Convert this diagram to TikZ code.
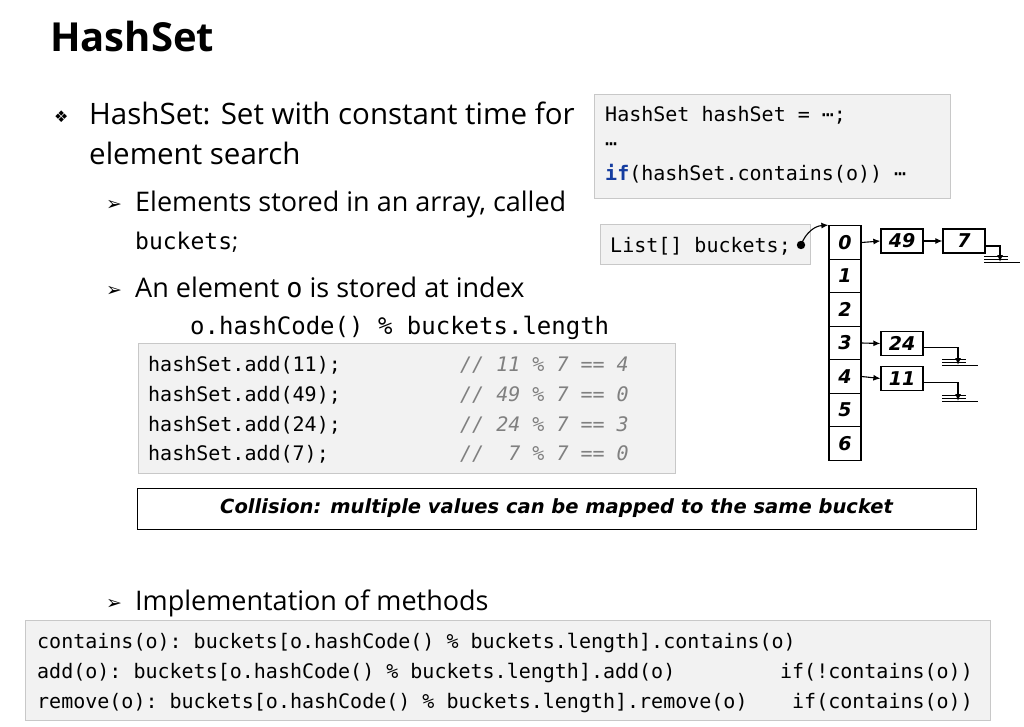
\documentclass[tikz,border=0pt]{standalone}
\usepackage{fontspec}
\setmainfont{Open Sans}
\setmonofont{DejaVu Sans Mono}
\newfontfamily\sym{DejaVu Sans}
\newfontfamily\comic{DejaVu Sans}
\usetikzlibrary{arrows.meta}
\definecolor{codebg}{RGB}{242,242,242}
\definecolor{codebd}{RGB}{200,200,200}
\definecolor{kw}{RGB}{20,60,160}
\begin{document}
\begin{tikzpicture}[x=1pt,y=-1pt,
  codebox/.style={fill=codebg,draw=codebd,line width=0.8pt},
  txt/.style={anchor=base west,inner sep=0pt,font=\fontsize{27}{30}\selectfont},
  code/.style={anchor=base west,inner sep=0pt,font=\ttfamily\fontsize{20}{24}\selectfont},
  cmt/.style={code,text=gray,font=\ttfamily\itshape\fontsize{20}{24}\selectfont},
  cell/.style={draw,line width=1.3pt,minimum width=32pt,minimum height=33.5pt,inner sep=0pt,font=\comic\bfseries\itshape\fontsize{19}{20}\selectfont},
  lnode/.style={draw,line width=1.3pt,minimum width=42pt,minimum height=24pt,inner sep=0pt,font=\comic\bfseries\itshape\fontsize{19}{20}\selectfont},
  link/.style={line width=1.1pt,-{Latex[length=7pt,width=6pt]}}]
\useasboundingbox (0,0) rectangle (1024,727);
\fill[white] (0,0) rectangle (1024,727);
% title
\node[anchor=base west,inner sep=0pt,font=\bfseries\fontsize{40}{44}\selectfont] (title) at (50,52) {HashSet};
% bullets
\node[anchor=base west,inner sep=0pt,font=\sym\fontsize{16}{18}\selectfont] (b1) at (54,123) {❖};
\node[anchor=base west,inner sep=0pt,font=\fontsize{29.5}{32}\selectfont] (t1) at (89,125) {HashSet: Set with constant time for};
\node[anchor=base west,inner sep=0pt,font=\fontsize{29.5}{32}\selectfont] (t1b) at (89,165) {element search};
\node[anchor=base west,inner sep=0pt,font=\sym\fontsize{19}{20}\selectfont] (b2) at (106,211) {➢};
\node[txt] (t2) at (135,212) {Elements stored in an array, called};
\node[anchor=base west,inner sep=0pt,font=\ttfamily\fontsize{23}{26}\selectfont] (t2b) at (135,249) {buckets\rmfamily;};
\node[anchor=base west,inner sep=0pt,font=\sym\fontsize{19}{20}\selectfont] (b3) at (106,296) {➢};
\node[txt] (t3) at (135,297) {An element \texttt{o} is stored at index};
\node[anchor=base west,inner sep=0pt,font=\ttfamily\fontsize{24}{26}\selectfont] (t3b) at (190,334) {o.hashCode() \% buckets.length};
% code box 1
\draw[codebox] (138,343) rectangle (675,473);
\node[code] (c1) at (148,371) {hashSet.add(11);};
\node[code] (c2) at (148,401) {hashSet.add(49);};
\node[code] (c3) at (148,431) {hashSet.add(24);};
\node[code] (c4) at (148,460) {hashSet.add(7);};
\node[cmt] (m1) at (460,371) {// 11 \% 7 == 4};
\node[cmt] (m2) at (460,401) {// 49 \% 7 == 0};
\node[cmt] (m3) at (460,431) {// 24 \% 7 == 3};
\node[cmt] (m4) at (460,460) {//\ \ 7 \% 7 == 0};
% collision
\node[draw,line width=1pt,minimum width=839pt,minimum height=41pt,inner sep=0pt,font=\comic\bfseries\itshape\fontsize{19.5}{22}\selectfont] (col) at (556.5,508.5) {Collision: multiple values can be mapped to the same bucket};
% implementation
\node[anchor=base west,inner sep=0pt,font=\sym\fontsize{19}{20}\selectfont] (b4) at (106,609) {➢};
\node[txt] (t4) at (135,610) {Implementation of methods};
\draw[codebox] (25,620) rectangle (990,720);
\node[code] (d1) at (37,648) {contains(o): buckets[o.hashCode() \% buckets.length].contains(o)};
\node[code] (d2) at (37,678) {add(o): buckets[o.hashCode() \% buckets.length].add(o)};
\node[code] (d3) at (37,708) {remove(o): buckets[o.hashCode() \% buckets.length].remove(o)};
\node[code,anchor=base east] (e2) at (973,678) {if(!contains(o))};
\node[code,anchor=base east] (e3) at (973,708) {if(contains(o))};
% top right code
\draw[codebox] (594,94) rectangle (950,198);
\node[code] (h1) at (605,122) {HashSet hashSet = ⋯;};
\node[code] (h2) at (605,151) {⋯};
\node[code] (h3) at (605,181) {{\bfseries\color{kw}if}(hashSet.contains(o)) ⋯};
% buckets box
\draw[codebox] (600,224) rectangle (810,264);
\node[code] (lb) at (610,252) {List[] buckets;};
\fill (801,245) circle (4.2pt);
\coordinate (dot) at (801,245);
% array
\foreach \i in {0,...,6} {
  \node[cell] (a\i) at (845,{242.5+33.5*\i}) {\i};
}
\node[lnode] (n49) at (902,241) {49};
\node[lnode] (n7) at (964,241) {7};
\node[lnode] (n24) at (902,343.5) {24};
\node[lnode] (n11) at (902,378.5) {11};
\draw[link] (dot) .. controls (806,232) and (815,226) .. (a0.north west);
\draw[link] (a0.east) -- (n49.west);
\draw[link] (n49.east) -- (n7.west);
\draw[link] (a3.east) -- (n24.west);
\draw[link] (a4.east) -- (n11.west);
\coordinate (g1) at (1000,262);
\coordinate (g2) at (958,365);
\coordinate (g3) at (958,401);
\draw[link] ([yshift=-5pt]n7.east) -| (g1);
\draw[link] ([yshift=-4pt]n24.east) -| (g2);
\draw[link] ([yshift=-4pt]n11.east) -| (g3);
\foreach \g in {g1,g2,g3} {
  \draw[line width=0.9pt] ([xshift=-16pt]\g) -- ([xshift=20pt]\g);
  \draw[line width=0.9pt] ([xshift=-16pt,yshift=3pt]\g) -- ([xshift=8pt,yshift=3pt]\g);
  \draw[line width=0.9pt] ([xshift=-16pt,yshift=6pt]\g) -- ([xshift=8pt,yshift=6pt]\g);
}
\end{tikzpicture}
\end{document}
